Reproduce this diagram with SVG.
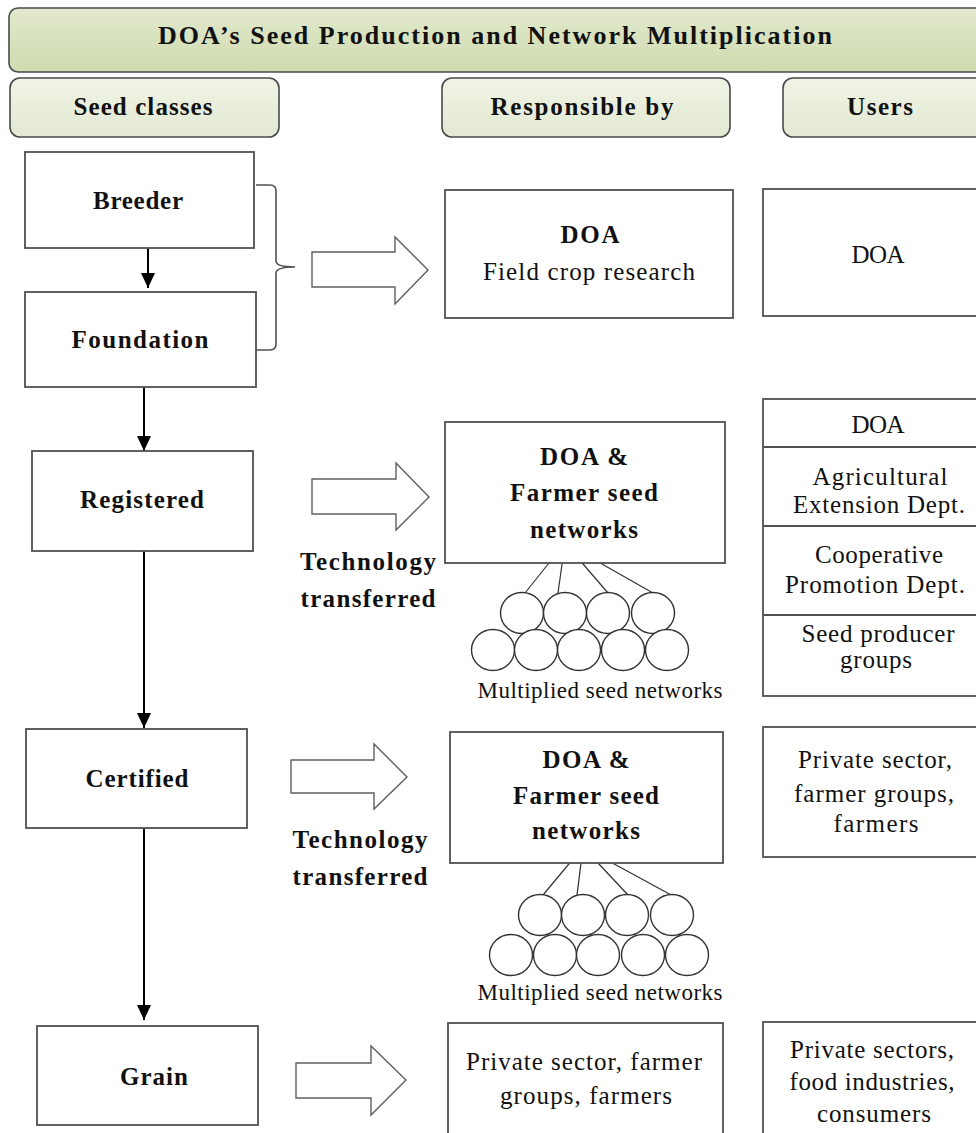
<svg xmlns="http://www.w3.org/2000/svg" width="976" height="1133" viewBox="0 0 976 1133" font-family="'Liberation Serif', 'DejaVu Serif', 'Times New Roman', serif">
<defs>
<linearGradient id="gHead" x1="0" y1="0" x2="0" y2="1">
<stop offset="0" stop-color="#e1e9cc"/>
<stop offset="1" stop-color="#cfdbb0"/>
</linearGradient>
<linearGradient id="gSub" x1="0" y1="0" x2="0" y2="1">
<stop offset="0" stop-color="#f0f4e6"/>
<stop offset="1" stop-color="#e2e9d2"/>
</linearGradient>
<marker id="ah" markerUnits="userSpaceOnUse" markerWidth="15" markerHeight="14" refX="15" refY="7" orient="auto">
<path d="M0,0 L15,7 L0,14 z" fill="#000"/>
</marker>
</defs>
<style>
.hdr{fill:url(#gHead);stroke:#4a4a4a;stroke-width:1.6}
.sub{fill:url(#gSub);stroke:#4a4a4a;stroke-width:1.6}
.box{fill:#fff;stroke:#505050;stroke-width:1.8}
.blk{fill:#fff;stroke:#606060;stroke-width:1.4}
.flow{fill:none;stroke:#000;stroke-width:2}
.br{fill:none;stroke:#505050;stroke-width:1.6}
.tl{fill:none;stroke:#333;stroke-width:1.2}
.c{fill:#fff;stroke:#333;stroke-width:1.4}
text{font-family:'Liberation Serif','DejaVu Serif','Times New Roman',serif;font-size:25px;fill:#111;text-anchor:middle}
.b{font-weight:bold;font-size:25px}
.t{font-size:26px}
.s{font-size:23px}
</style>
<rect width="976" height="1133" fill="#fff"/>

<g id="title">
<rect class="hdr" x="9" y="8" width="985" height="64" rx="9"/>
<text class="b t" x="495" y="44" textLength="674">DOA’s Seed Production and Network Multiplication</text>
</g>
<g id="hdr-seed-classes">
<rect class="sub" x="10" y="78" width="269" height="59" rx="10"/>
<text class="b" x="143" y="115" textLength="139">Seed classes</text>
</g>
<g id="hdr-responsible">
<rect class="sub" x="442" y="78" width="288" height="59" rx="10"/>
<text class="b" x="582" y="115" textLength="183">Responsible by</text>
</g>
<g id="hdr-users">
<rect class="sub" x="783" y="78" width="210" height="59" rx="10"/>
<text class="b" x="880" y="115" textLength="66">Users</text>
</g>

<g id="connectors">
<line class="flow" x1="148" y1="248" x2="148" y2="288" marker-end="url(#ah)"/>
<line class="flow" x1="144" y1="387" x2="144" y2="451" marker-end="url(#ah)"/>
<line class="flow" x1="144" y1="551" x2="144" y2="728" marker-end="url(#ah)"/>
<line class="flow" x1="144" y1="828" x2="144" y2="1020" marker-end="url(#ah)"/>
<path class="br" d="M256,185 L270,185 Q276,185 276,191 L276,261 Q276,267 295,267 Q276,267 276,273 L276,344 Q276,350 270,350 L256,350"/>
<polygon class="blk" points="312,252 395,252 395,237 428,270 395,304 395,287 312,287"/>
<polygon class="blk" points="312,479 396,479 396,463 429,497 396,530 396,514 312,514"/>
<polygon class="blk" points="291,760 374,760 374,744 407,777 374,809 374,793 291,793"/>
<polygon class="blk" points="296,1063 371,1063 371,1046 406,1080 371,1115 371,1098 296,1098"/>
<line class="tl" x1="565" y1="543" x2="525" y2="593"/>
<line class="tl" x1="565" y1="543" x2="558" y2="593"/>
<line class="tl" x1="565" y1="543" x2="608" y2="593"/>
<line class="tl" x1="565" y1="543" x2="653" y2="593"/>
<line class="tl" x1="583" y1="847" x2="543" y2="895"/>
<line class="tl" x1="583" y1="847" x2="577" y2="895"/>
<line class="tl" x1="583" y1="847" x2="628" y2="895"/>
<line class="tl" x1="583" y1="847" x2="673" y2="896"/>
</g>

<g id="breeder">
<rect class="box" x="25" y="152" width="229" height="96"/>
<text class="b" x="138" y="209" textLength="90">Breeder</text>
</g>
<g id="foundation">
<rect class="box" x="25" y="292" width="231" height="95"/>
<text class="b" x="140" y="348" textLength="137">Foundation</text>
</g>
<g id="registered">
<rect class="box" x="32" y="451" width="221" height="100"/>
<text class="b" x="142" y="508" textLength="124">Registered</text>
</g>
<g id="certified">
<rect class="box" x="26" y="729" width="221" height="99"/>
<text class="b" x="137" y="787" textLength="103">Certified</text>
</g>
<g id="grain">
<rect class="box" x="37" y="1026" width="221" height="99"/>
<text class="b" x="154" y="1085" textLength="68">Grain</text>
</g>

<g id="tech-label-1">
<text class="b" x="368" y="570" textLength="136">Technology</text>
<text class="b" x="368" y="607" textLength="135">transferred</text>
</g>
<g id="tech-label-2">
<text class="b" x="360" y="848" textLength="135">Technology</text>
<text class="b" x="360" y="885" textLength="135">transferred</text>
</g>

<g id="resp-doa-field">
<rect class="box" x="445" y="190" width="288" height="128"/>
<text class="b" x="590" y="243" textLength="59">DOA</text>
<text x="589" y="280" textLength="212">Field crop research</text>
</g>
<g id="resp-network-1">
<rect class="box" x="445" y="422" width="280" height="141"/>
<text class="b" x="584" y="465" textLength="88">DOA &amp;</text>
<text class="b" x="584" y="501" textLength="148">Farmer seed</text>
<text class="b" x="584" y="538" textLength="108">networks</text>
</g>
<g id="multiplied-1">
<ellipse class="c" cx="522" cy="613" rx="21.5" ry="20.5"/>
<ellipse class="c" cx="565" cy="613" rx="21.5" ry="20.5"/>
<ellipse class="c" cx="608" cy="613" rx="21.5" ry="20.5"/>
<ellipse class="c" cx="653" cy="613" rx="21.5" ry="20.5"/>
<ellipse class="c" cx="493" cy="650" rx="21.5" ry="20.5"/>
<ellipse class="c" cx="536" cy="650" rx="21.5" ry="20.5"/>
<ellipse class="c" cx="579" cy="650" rx="21.5" ry="20.5"/>
<ellipse class="c" cx="623" cy="650" rx="21.5" ry="20.5"/>
<ellipse class="c" cx="667" cy="650" rx="21.5" ry="20.5"/>
<text class="s" x="600" y="698" textLength="245">Multiplied seed networks</text>
</g>
<g id="resp-network-2">
<rect class="box" x="450" y="732" width="273" height="131"/>
<text class="b" x="586" y="768" textLength="87">DOA &amp;</text>
<text class="b" x="586" y="804" textLength="146">Farmer seed</text>
<text class="b" x="586" y="839" textLength="108">networks</text>
</g>
<g id="multiplied-2">
<ellipse class="c" cx="540" cy="915" rx="21.5" ry="20.5"/>
<ellipse class="c" cx="583" cy="915" rx="21.5" ry="20.5"/>
<ellipse class="c" cx="627" cy="915" rx="21.5" ry="20.5"/>
<ellipse class="c" cx="672" cy="915" rx="21.5" ry="20.5"/>
<ellipse class="c" cx="511" cy="955" rx="21.5" ry="20.5"/>
<ellipse class="c" cx="555" cy="955" rx="21.5" ry="20.5"/>
<ellipse class="c" cx="598" cy="955" rx="21.5" ry="20.5"/>
<ellipse class="c" cx="643" cy="955" rx="21.5" ry="20.5"/>
<ellipse class="c" cx="687" cy="955" rx="21.5" ry="20.5"/>
<text class="s" x="600" y="1000" textLength="245">Multiplied seed networks</text>
</g>
<g id="resp-private">
<rect class="box" x="448" y="1023" width="275" height="120"/>
<text x="584" y="1070" textLength="236">Private sector, farmer</text>
<text x="586" y="1104" textLength="172">groups, farmers</text>
</g>

<g id="users-doa">
<rect class="box" x="763" y="189" width="230" height="127"/>
<text x="878" y="263" textLength="53">DOA</text>
</g>
<g id="users-registered">
<rect class="box" x="763" y="399" width="230" height="297"/>
<line class="box" x1="763" y1="447" x2="993" y2="447"/>
<line class="box" x1="763" y1="526" x2="993" y2="526"/>
<line class="box" x1="763" y1="615" x2="993" y2="615"/>
<text x="878" y="433" textLength="53">DOA</text>
<text x="880" y="485" textLength="135">Agricultural</text>
<text x="879" y="513" textLength="172">Extension Dept.</text>
<text x="879" y="563" textLength="128">Cooperative</text>
<text x="875" y="593" textLength="180">Promotion Dept.</text>
<text x="878" y="642" textLength="153">Seed producer</text>
<text x="876" y="668" textLength="72">groups</text>
</g>
<g id="users-certified">
<rect class="box" x="763" y="727" width="230" height="130"/>
<text x="875" y="768" textLength="154">Private sector,</text>
<text x="874" y="802" textLength="160">farmer groups,</text>
<text x="876" y="832" textLength="85">farmers</text>
</g>
<g id="users-grain">
<rect class="box" x="763" y="1022" width="230" height="121"/>
<text x="872" y="1058" textLength="164">Private sectors,</text>
<text x="872" y="1090" textLength="165">food industries,</text>
<text x="874" y="1122" textLength="114">consumers</text>
</g>
</svg>
